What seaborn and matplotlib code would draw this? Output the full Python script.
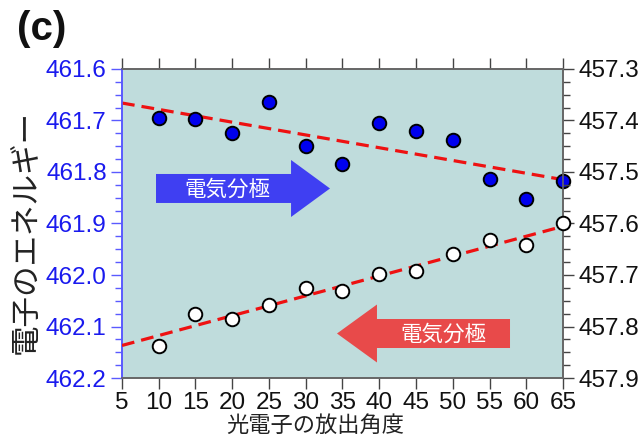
import numpy as np
import pandas as pd
import matplotlib
matplotlib.use("Agg")
import matplotlib.pyplot as plt
from matplotlib.patches import FancyArrow
from matplotlib.ticker import MultipleLocator
import seaborn as sns

# ---- data ----
angles = [10, 15, 20, 25, 30, 35, 40, 45, 50, 55, 60, 65]
energy_blue = [461.696, 461.697, 461.725, 461.665, 461.749, 461.784,
               461.704, 461.720, 461.737, 461.813, 461.852, 461.818]   # left axis
energy_white = [457.838, 457.775, 457.785, 457.758, 457.725, 457.732,
                457.699, 457.693, 457.659, 457.633, 457.642, 457.599]  # right axis
x_ticks = [5, 10, 15, 20, 25, 30, 35, 40, 45, 50, 55, 60, 65]
left_ticks = [461.6, 461.7, 461.8, 461.9, 462.0, 462.1, 462.2]
right_ticks = [457.3, 457.4, 457.5, 457.6, 457.7, 457.8, 457.9]
arrow_label = "電気分極"
xlabel = "光電子の放出角度"
ylabel = "電子のエネルギー"
panel = "(c)"

df_b = pd.DataFrame({"angle": angles, "E": energy_blue})
df_w = pd.DataFrame({"angle": angles, "E": energy_white})

sns.set_style("ticks")
plt.rcParams['font.family'] = ['Liberation Sans', 'Noto Sans CJK JP', 'DejaVu Sans']

fig = plt.figure(figsize=(6.43, 4.4), dpi=100)
ax = fig.add_axes([0.1897, 0.1409, 0.6859, 0.7023])
ax.set_facecolor("#bfdcdc")
ax2 = ax.twinx()

ax.set_xlim(5, 65)
ax.set_ylim(462.2, 461.6)
ax2.set_ylim(457.9, 457.3)

# arrows (annotations)
blue_arrow = FancyArrow(9.63, 461.832, 23.67, 0, width=0.0563, head_width=0.1107,
                        head_length=5.3, length_includes_head=True,
                        color="#3f3ff2", lw=0, zorder=1)
red_arrow = FancyArrow(57.79, 462.1136, -23.54, 0, width=0.0563, head_width=0.1126,
                       head_length=5.44, length_includes_head=True,
                       color="#e84a4a", lw=0, zorder=1)
ax.add_patch(blue_arrow)
ax.add_patch(red_arrow)
ax.text(19.4, 461.834, arrow_label, color="white", fontsize=15.5, ha="center", va="center",
        family=['Noto Sans CJK JP'], zorder=2)
ax.text(48.7, 462.116, arrow_label, color="white", fontsize=15.5, ha="center", va="center",
        family=['Noto Sans CJK JP'], zorder=2)

line_kws = dict(color="#ee1111", lw=2.3, linestyle=(0, (4, 2.2)), zorder=3)
sns.regplot(data=df_b, x="angle", y="E", ax=ax, scatter=False, ci=None,
            truncate=False, line_kws=line_kws)
sns.regplot(data=df_w, x="angle", y="E", ax=ax2, scatter=False, ci=None,
            truncate=False, line_kws=line_kws)
sns.scatterplot(data=df_b, x="angle", y="E", ax=ax, color="#0000ee", edgecolor="black",
                s=95, linewidth=1.4, zorder=4, clip_on=False)
sns.scatterplot(data=df_w, x="angle", y="E", ax=ax2, color="white", edgecolor="black",
                s=95, linewidth=1.4, zorder=4, clip_on=False)

ax.set_xlim(5, 65)
ax.set_ylim(462.2, 461.6)
ax2.set_ylim(457.9, 457.3)

ax.set_xticks(x_ticks)
ax.set_xticklabels([str(v) for v in x_ticks])
ax.set_yticks(left_ticks)
ax.set_yticklabels([f"{v:.1f}" for v in left_ticks])
ax2.set_yticks(right_ticks)
ax2.set_yticklabels([f"{v:.1f}" for v in right_ticks])
ax.yaxis.set_minor_locator(MultipleLocator(0.025))
ax2.yaxis.set_minor_locator(MultipleLocator(0.025))

ax.set_xlabel(xlabel, fontsize=16, color="#222222")
ax.xaxis.set_label_coords(0.438, -0.122)
ax.set_ylabel(ylabel, fontsize=22, color="#222222")
ax.yaxis.set_label_coords(-0.183, 0.472)
ax2.set_ylabel("")

for a in (ax, ax2):
    for s in a.spines.values():
        s.set_visible(True)
        s.set_color("#666666")
        s.set_linewidth(1.2)
ax.spines["left"].set_color("#5a5aff")
ax2.spines["left"].set_color("#5a5aff")

ax.tick_params(axis="x", which="major", direction="out", length=8, width=1.0,
               color="#444444", labelsize=17.5, labelcolor="#111111", pad=2,
               top=True, bottom=True)
ax.tick_params(axis="y", which="major", direction="out", length=8, width=1.0,
               color="#5a5aff", labelsize=17.5, labelcolor="#1a1aee", pad=3)
ax.tick_params(axis="y", which="minor", direction="out", length=5, width=1.0,
               color="#5a5aff")
ax2.tick_params(axis="y", which="major", direction="out", length=8, width=1.0,
                color="#444444", labelsize=17.5, labelcolor="#111111", pad=3)
ax2.tick_params(axis="y", which="minor", direction="out", length=5, width=1.0,
                color="#444444")

fig.text(0.026, 0.933, panel, fontsize=29, fontweight="bold", color="#111111",
         ha="left", va="center")

fig.savefig("out.png", dpi=100)
